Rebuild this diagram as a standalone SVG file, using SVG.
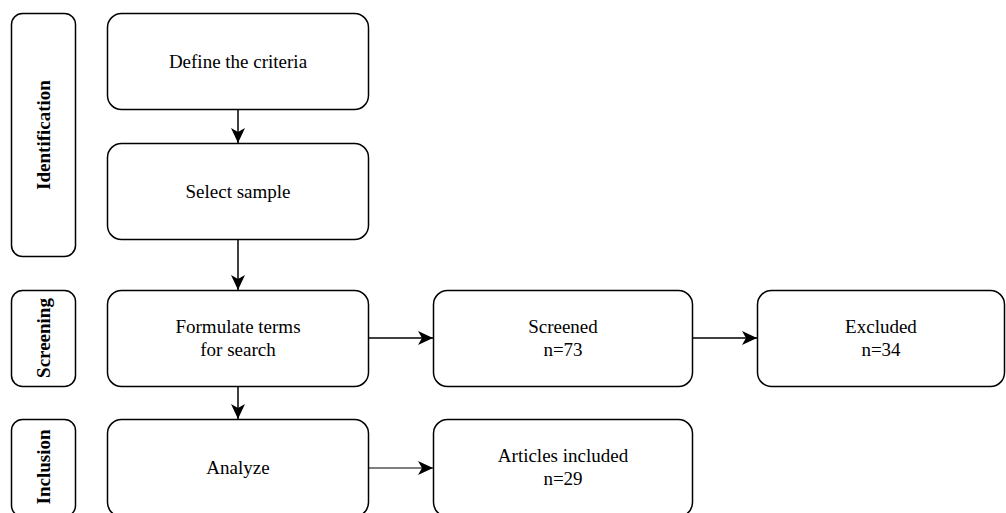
<svg xmlns="http://www.w3.org/2000/svg" width="1006" height="513" viewBox="0 0 1006 513">
<defs>
<marker id="ah" viewBox="0 0 15 14" refX="15" refY="7" markerWidth="15" markerHeight="14" markerUnits="userSpaceOnUse" orient="auto">
<path d="M0,0 L15,7 L0,14 L4,7 Z" fill="#000"/>
</marker>
<style>
.box{fill:#fff;stroke:#000;stroke-width:1.5}
.t{font-family:"Liberation Serif","Times New Roman",serif;font-size:19px;fill:#000;text-anchor:middle}
.lane{font-family:"Liberation Serif","Times New Roman",serif;font-size:19px;font-weight:bold;fill:#000;text-anchor:middle}
.c{fill:none;stroke:#000;stroke-width:1.5}
.thin{stroke-width:1}
</style>
</defs>
<rect width="1006" height="513" fill="#fff"/>
<g id="lane-identification"><rect class="box" x="11.5" y="13.5" width="64" height="243" rx="11"/><text class="lane" transform="translate(50,135) rotate(-90)">Identification</text></g>
<g id="lane-screening"><rect class="box" x="11.5" y="290.5" width="64" height="96" rx="11"/><text class="lane" transform="translate(50,338) rotate(-90)">Screening</text></g>
<g id="lane-inclusion"><rect class="box" x="11.5" y="419.5" width="64" height="97" rx="11"/><text class="lane" transform="translate(50,467) rotate(-90)">Inclusion</text></g>
<g id="define"><rect class="box" x="107.5" y="13.5" width="261" height="96" rx="14"/><text class="t" x="238" y="68">Define the criteria</text></g>
<g id="select"><rect class="box" x="107.5" y="143.5" width="261" height="96" rx="14"/><text class="t" x="238" y="198">Select sample</text></g>
<g id="formulate"><rect class="box" x="107.5" y="290.5" width="261" height="96" rx="14"/><text class="t" x="238" y="333">Formulate terms</text><text class="t" x="238" y="356">for search</text></g>
<g id="analyze"><rect class="box" x="107.5" y="419.5" width="261" height="97" rx="14"/><text class="t" x="238" y="474">Analyze</text></g>
<g id="screened"><rect class="box" x="433.5" y="290.5" width="259" height="96" rx="14"/><text class="t" x="563" y="333">Screened</text><text class="t" x="563" y="356">n=73</text></g>
<g id="excluded"><rect class="box" x="757.5" y="290.5" width="247" height="96" rx="14"/><text class="t" x="881" y="333">Excluded</text><text class="t" x="881" y="356">n=34</text></g>
<g id="articles"><rect class="box" x="433.5" y="419.5" width="259" height="97" rx="14"/><text class="t" x="563" y="462">Articles included</text><text class="t" x="563" y="485">n=29</text></g>
<g id="connectors">
<line class="c" x1="238" y1="110" x2="238" y2="143" marker-end="url(#ah)"/>
<line class="c" x1="238" y1="240" x2="238" y2="290" marker-end="url(#ah)"/>
<line class="c" x1="238" y1="387" x2="238" y2="419" marker-end="url(#ah)"/>
<line class="c" x1="369" y1="338" x2="433" y2="338" marker-end="url(#ah)"/>
<line class="c" x1="693" y1="338" x2="757" y2="338" marker-end="url(#ah)"/>
<line class="c thin" x1="369" y1="468" x2="433" y2="468" marker-end="url(#ah)"/>
</g>
</svg>
